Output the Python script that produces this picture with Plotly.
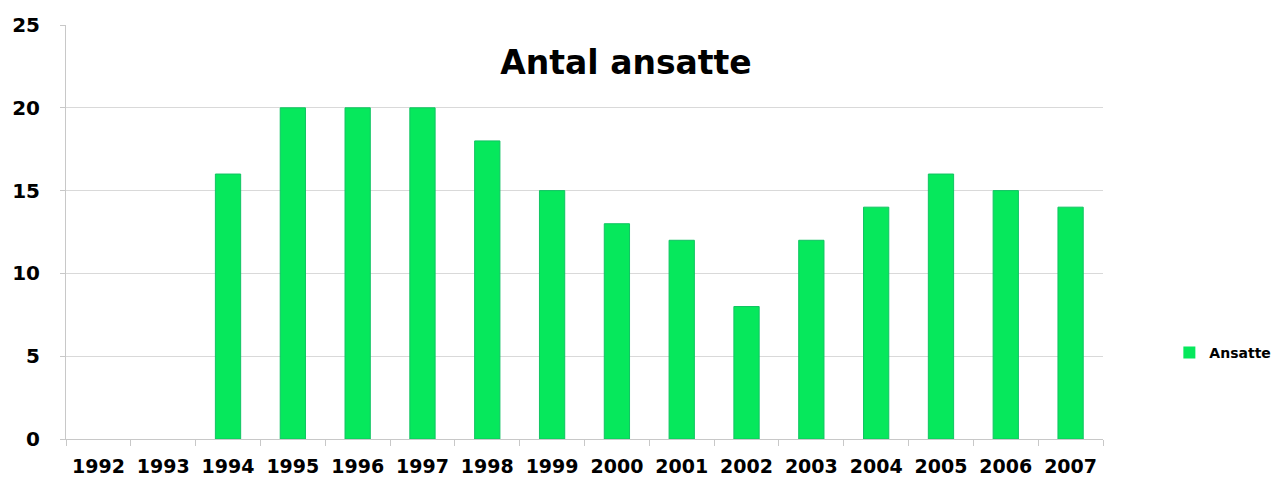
import plotly.graph_objects as go

years = ["1992", "1993", "1994", "1995", "1996", "1997", "1998", "1999",
         "2000", "2001", "2002", "2003", "2004", "2005", "2006", "2007"]
ansatte = [0, 0, 16, 20, 20, 20, 18, 15, 13, 12, 8, 12, 14, 16, 15, 14]
y_ticks = [0, 5, 10, 15, 20, 25]

bar_color = "#06E85C"
edge_color = "#10C462"
axis_color = "#C8C8C8"
font_family = "DejaVu Sans, Verdana, sans-serif"

# empty years get no outline so nothing shows on the baseline
edge_widths = [1 if v > 0 else 0 for v in ansatte]

fig = go.Figure()
fig.add_trace(go.Bar(
    x=years,
    y=ansatte,
    name="Ansatte",
    marker=dict(color=bar_color, line=dict(color=edge_color, width=edge_widths)),
    showlegend=True,
))

fig.update_layout(
    width=1288,
    height=493,
    margin=dict(l=66, r=185, t=25, b=54),
    paper_bgcolor="white",
    plot_bgcolor="white",
    bargap=0.61,
    font=dict(family=font_family, color="black"),
    title=dict(
        text="<b>Antal ansatte</b>",
        x=626 / 1288,
        xanchor="center",
        y=1 - 62 / 493,
        yanchor="middle",
        font=dict(size=33, family=font_family, color="black"),
    ),
    legend=dict(
        x=1.064,
        xanchor="left",
        y=0.208,
        yanchor="middle",
        font=dict(size=14, family=font_family, weight="bold"),
        bgcolor="rgba(0,0,0,0)",
        itemwidth=30,
    ),
    xaxis=dict(
        type="category",
        showline=True,
        linecolor=axis_color,
        linewidth=1,
        ticks="outside",
        tickson="boundaries",
        ticklen=6,
        tickcolor=axis_color,
        showgrid=False,
        tickfont=dict(size=19, family=font_family, weight="bold"),
        ticklabelstandoff=10,
    ),
    yaxis=dict(
        range=[0, 25],
        tickvals=y_ticks,
        showline=True,
        linecolor=axis_color,
        linewidth=1,
        ticks="outside",
        ticklen=5,
        tickcolor=axis_color,
        showgrid=True,
        gridcolor="#D9D9D9",
        gridwidth=1,
        zeroline=False,
        tickfont=dict(size=20, family=font_family, weight="bold"),
        ticklabelstandoff=16,
    ),
)

fig.write_html("out.html")
